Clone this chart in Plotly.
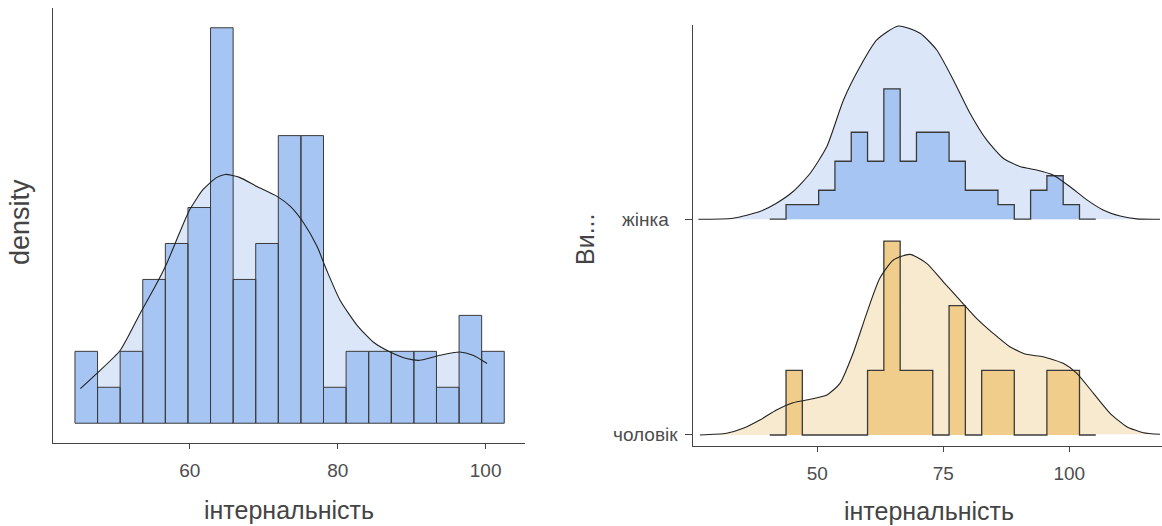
import plotly.graph_objects as go

W, H = 1162, 526

# ---------------- left panel: whole sample ----------------
hist_all_start = 44.47          # left edge of the first bin
hist_all_width = 55 / 18        # bin width
hist_all_counts = [2, 1, 2, 4, 5, 6, 11, 4, 5, 8, 8, 1, 2, 2, 2, 2, 1, 3, 2]

kde_all_x = [45.2, 47.4, 50.6, 53.3, 55.3, 56.9, 58.6, 60.0, 61.8, 63.6, 64.8,
             66.8, 69.0, 71.8, 73.6, 75.4, 77.2, 78.5, 80.3, 82.6, 84.8, 87.1,
             89.3, 91.1, 93.8, 96.5, 98.3, 100.2]
kde_all_y = [0.00443, 0.00636, 0.00936, 0.01411, 0.01752, 0.02052, 0.02439,
             0.02739, 0.02997, 0.03149, 0.03190, 0.03149, 0.03038, 0.02909,
             0.02780, 0.02568, 0.02268, 0.01964, 0.01581, 0.01259, 0.01042,
             0.00913, 0.00830, 0.00807, 0.00871, 0.00913, 0.00871, 0.00765]

left_x_ticks = [60, 80, 100]

# ---------------- right panel: by gender ----------------
groups = ["чоловік", "жінка"]
hist_grp_start = 43.8
hist_grp_width = 3.235
hist_counts = {
    "жінка": [1, 1, 2, 4, 6, 4, 9, 4, 6, 6, 4, 2, 2, 1, 0, 2, 3, 1],
    "чоловік": [1, 0, 0, 0, 0, 1, 3, 1, 1, 0, 2, 0, 1, 1, 0, 0, 1, 1],
}
kde_grp = {
    "жінка": (
        [26.4, 33.3, 38.6, 41.9, 45.2, 48.6, 51.9, 55.2, 58.5, 61.8, 66.1, 70.4,
         73.7, 77.0, 80.3, 83.6, 86.9, 90.2, 93.5, 96.8, 100.1, 103.5, 106.7,
         110.1, 113.4, 118.0],
        [0.0, 0.00037, 0.00283, 0.00588, 0.01018, 0.01691, 0.02673, 0.04386,
         0.05614, 0.06592, 0.07107, 0.06838, 0.06224, 0.05121, 0.03897, 0.02915,
         0.02243, 0.01938, 0.01813, 0.01629, 0.01202, 0.00710, 0.00342, 0.00121,
         0.00011, 0.0],
    ),
    "чоловік": (
        [26.7, 32.0, 35.3, 38.6, 41.9, 45.2, 48.6, 51.9, 54.5, 57.1, 59.8, 62.4,
         65.1, 68.4, 71.7, 75.0, 78.3, 81.6, 84.9, 88.2, 91.5, 94.8, 98.8, 101.5,
         104.8, 108.1, 111.4, 114.7, 118.0],
        [0.0, 0.00063, 0.00246, 0.00551, 0.00919, 0.01188, 0.01313, 0.01471,
         0.01901, 0.03004, 0.04474, 0.05761, 0.06434, 0.06643, 0.06313, 0.05636,
         0.04963, 0.04290, 0.03739, 0.03246, 0.02967, 0.02879, 0.02636, 0.02268,
         0.01533, 0.00798, 0.00305, 0.00085, 0.00026],
    ),
}
right_x_ticks = [50, 75, 100]

# ---------------- styling ----------------
FILL_LIGHT = {"жінка": "#dbe7f8", "чоловік": "#f8eacf"}
FILL_BAR = {"жінка": "#a7c5f2", "чоловік": "#f0cd8a"}
RIDGE_SCALE = 12.6     # ridge height units per density unit
FONT = "Liberation Sans, Arial, sans-serif"
TICK_COLOR = "#4d4d4d"
TITLE_COLOR = "#444444"
AXIS_COLOR = "#444444"
OUTLINE = "#3a3a3a"
CURVE = "#222222"


def px_x(p):
    return p / W


def px_y(p):
    return 1 - p / H


fig = go.Figure()

# left: density area under the curve
fig.add_trace(go.Scatter(
    x=kde_all_x, y=kde_all_y, mode="lines", fill="tozeroy",
    fillcolor=FILL_LIGHT["жінка"], line=dict(width=0, shape="spline"),
    hoverinfo="skip", xaxis="x", yaxis="y"))

# left: histogram on density scale, one closed rectangle per bin
n_all = sum(hist_all_counts)
rx, ry = [], []
for i, c in enumerate(hist_all_counts):
    x0 = hist_all_start + i * hist_all_width
    x1 = x0 + hist_all_width
    d = c / (n_all * hist_all_width)
    rx += [x0, x0, x1, x1, x0, None]
    ry += [0, d, d, 0, 0, None]
fig.add_trace(go.Scatter(
    x=rx, y=ry, mode="lines", fill="toself", fillcolor=FILL_BAR["жінка"],
    line=dict(color=OUTLINE, width=1), hoverinfo="skip",
    xaxis="x", yaxis="y"))

# left: density curve
fig.add_trace(go.Scatter(
    x=kde_all_x, y=kde_all_y, mode="lines",
    line=dict(color=CURVE, width=1.1, shape="spline", smoothing=0.6),
    xaxis="x", yaxis="y"))

# right: one ridge per group
for base, g in enumerate(groups):
    kx, ky = kde_grp[g]
    ky_s = [base + v * RIDGE_SCALE for v in ky]
    fig.add_trace(go.Scatter(
        x=kx, y=ky_s, mode="lines", fill="toself",
        fillcolor=FILL_LIGHT[g], line=dict(width=0, shape="spline"),
        hoverinfo="skip", xaxis="x2", yaxis="y2"))

    counts = hist_counts[g]
    n = sum(counts)
    edges = [hist_grp_start + i * hist_grp_width for i in range(len(counts) + 1)]
    sx = [edges[0] - hist_grp_width] + edges[:-1] + [edges[-1], edges[-1] + hist_grp_width]
    sy = [base] + [base + c / (n * hist_grp_width) * RIDGE_SCALE for c in counts] + [base, base]
    fig.add_trace(go.Scatter(
        x=sx, y=sy, mode="lines", fill="toself", fillcolor=FILL_BAR[g],
        line=dict(color=OUTLINE, width=1.3, shape="hv"),
        xaxis="x2", yaxis="y2"))

    fig.add_trace(go.Scatter(
        x=kx, y=ky_s, mode="lines",
        line=dict(color=CURVE, width=1.1, shape="spline", smoothing=0.6),
        xaxis="x2", yaxis="y2"))

axis_common = dict(
    showline=True, linecolor=AXIS_COLOR, linewidth=1.3, showgrid=False,
    zeroline=False, ticks="outside", ticklen=5, tickwidth=1.3,
    tickcolor=AXIS_COLOR, ticklabelstandoff=5,
    tickfont=dict(family=FONT, size=19, color=TICK_COLOR),
)

peak_all = max(hist_all_counts) / (n_all * hist_all_width)

fig.update_layout(
    width=W, height=H, margin=dict(l=0, r=0, t=0, b=0),
    paper_bgcolor="white", plot_bgcolor="white", showlegend=False,
    xaxis=dict(axis_common, domain=[px_x(53), px_x(525)], range=[41.5, 105.33],
               tickvals=left_x_ticks, anchor="y"),
    yaxis=dict(axis_common, domain=[px_y(443), px_y(8)],
               range=[-0.05 * peak_all, 1.05 * peak_all],
               showticklabels=False, ticks="", anchor="x"),
    xaxis2=dict(axis_common, domain=[px_x(693.3), 1.0], range=[25.4, 118.4],
                tickvals=right_x_ticks, anchor="y2"),
    yaxis2=dict(axis_common, domain=[px_y(446), px_y(25)], range=[-0.051, 1.90],
                tickvals=list(range(len(groups))), showticklabels=False,
                ticklen=7, anchor="x2"),
)

annotations = []
# right: group labels, centred
for base, g in enumerate(groups):
    annotations.append(dict(
        text=g, x=px_x(645), xref="paper", y=base, yref="y2",
        xanchor="center", yanchor="middle", showarrow=False,
        font=dict(family=FONT, size=19, color=TICK_COLOR)))

# axis titles
title_font = dict(family=FONT, size=25, color=TITLE_COLOR)
for text, x, y, angle, size in [
    ("density", 20, 222, -90, 27),
    ("інтернальність", 289, 510, 0, 25),
    ("Ви...", 585, 239, -90, 25),
    ("інтернальність", 929, 511, 0, 25),
]:
    annotations.append(dict(
        text=text, x=px_x(x), y=px_y(y), textangle=angle,
        xref="paper", yref="paper", xanchor="center", yanchor="middle",
        showarrow=False, font=dict(title_font, size=size)))
fig.update_layout(annotations=annotations)

fig.write_html("out.html")
